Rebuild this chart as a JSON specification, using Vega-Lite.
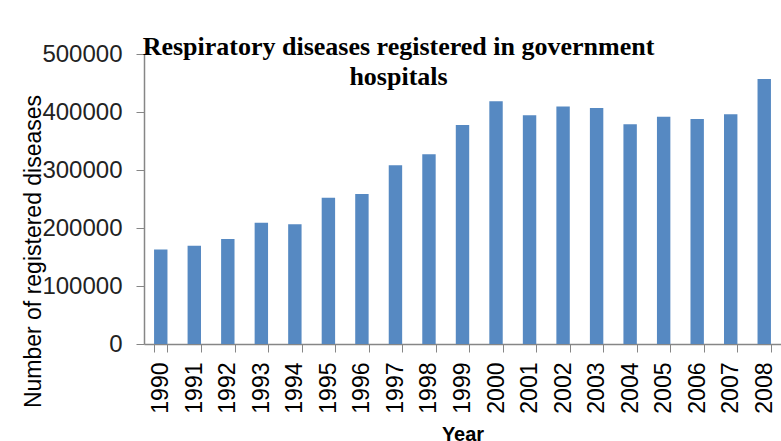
{
  "$schema": "https://vega.github.io/schema/vega-lite/v6.json",
  "autosize": {"type": "none"},
  "width": 637,
  "height": 290,
  "padding": {"left": 144, "top": 54, "right": 0, "bottom": 97},
  "background": "white",
  "config": {"view": {"stroke": null}, "font": "Liberation Sans"},
  "title": {
    "text": ["Respiratory diseases registered in government", "hospitals"],
    "font": "Liberation Serif",
    "fontSize": 26,
    "fontWeight": "bold",
    "color": "#000000",
    "anchor": "middle",
    "align": "center",
    "baseline": "top",
    "lineHeight": 30,
    "offset": 0,
    "dx": -64,
    "dy": 48
  },
  "data": {
    "values": [
      {"Year": "1990", "Cases": 163000},
      {"Year": "1991", "Cases": 169500},
      {"Year": "1992", "Cases": 181000},
      {"Year": "1993", "Cases": 209000},
      {"Year": "1994", "Cases": 206500},
      {"Year": "1995", "Cases": 252000},
      {"Year": "1996", "Cases": 258500},
      {"Year": "1997", "Cases": 308000},
      {"Year": "1998", "Cases": 327000},
      {"Year": "1999", "Cases": 377500},
      {"Year": "2000", "Cases": 418500},
      {"Year": "2001", "Cases": 394500},
      {"Year": "2002", "Cases": 409500},
      {"Year": "2003", "Cases": 407000},
      {"Year": "2004", "Cases": 379000},
      {"Year": "2005", "Cases": 392000},
      {"Year": "2006", "Cases": 388000},
      {"Year": "2007", "Cases": 396000},
      {"Year": "2008", "Cases": 457000}
    ]
  },
  "mark": {"type": "bar", "color": "#5689C2"},
  "encoding": {
    "x": {
      "field": "Year",
      "type": "ordinal",
      "scale": {"paddingInner": 0.6, "paddingOuter": 0.3},
      "axis": {
        "title": "Year",
        "titleFont": "Liberation Sans",
        "titleFontSize": 20,
        "titleFontWeight": "bold",
        "titleColor": "#000000",
        "titleBaseline": "middle",
        "titleY": 90,
        "labelAngle": 270,
        "labelFontSize": 23,
        "labelColor": "#000000",
        "labelPadding": 10,
        "tickBand": "extent",
        "tickSize": 8,
        "tickColor": "#868686",
        "domainColor": "#868686",
        "domainWidth": 1.5,
        "grid": false
      }
    },
    "y": {
      "field": "Cases",
      "type": "quantitative",
      "scale": {"domain": [0, 500000], "nice": false},
      "axis": {
        "title": "Number of registered diseases",
        "titleFont": "Liberation Sans",
        "titleFontSize": 23,
        "titleFontWeight": "normal",
        "titleColor": "#000000",
        "titleAngle": 270,
        "titleAlign": "center",
        "titleBaseline": "middle",
        "titleX": -111,
        "titleY": 197,
        "values": [0, 100000, 200000, 300000, 400000, 500000],
        "format": "d",
        "labelFontSize": 24,
        "labelColor": "#222222",
        "labelPadding": 14,
        "tickSize": 8,
        "tickColor": "#868686",
        "domainColor": "#868686",
        "domainWidth": 1.5,
        "grid": false
      }
    }
  }
}
